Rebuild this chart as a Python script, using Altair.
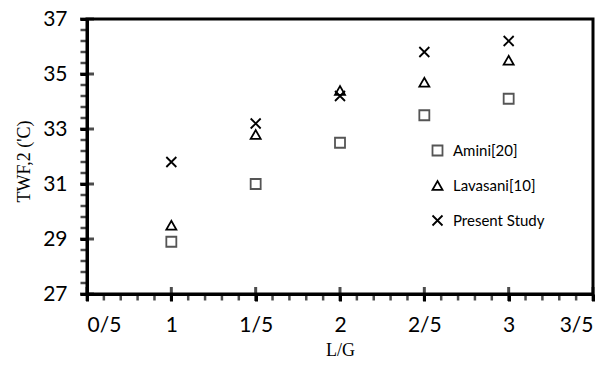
import altair as alt
import pandas as pd

ratios = [1.0, 1.5, 2.0, 2.5, 3.0]
amini = [28.9, 31.0, 32.5, 33.5, 34.1]
lavasani = [29.5, 32.8, 34.4, 34.7, 35.5]
present = [31.8, 33.2, 34.2, 35.8, 36.2]
series_names = ["Amini[20]", "Lavasani[10]", "Present Study"]

x_ticks = [0.5, 1.0, 1.5, 2.0, 2.5, 3.0, 3.5]
x_tick_labels = ["0/5", "1", "1/5", "2", "2/5", "3", "3/5"]
y_ticks = [27, 29, 31, 33, 35, 37]
x_minor = [0.6, 0.7, 0.8, 0.9, 1.1, 1.2, 1.3, 1.4, 1.6, 1.7, 1.8, 1.9,
           2.1, 2.2, 2.3, 2.4, 2.6, 2.7, 2.8, 2.9, 3.1, 3.2, 3.3, 3.4]
y_minor = [27.4, 27.8, 28.2, 28.6, 29.4, 29.8, 30.2, 30.6, 31.4, 31.8, 32.2, 32.6,
           33.4, 33.8, 34.2, 34.6, 35.4, 35.8, 36.2, 36.6]

rows = []
for name, vals in zip(series_names, [amini, lavasani, present]):
    for r, v in zip(ratios, vals):
        rows.append({"L/G": r, "TWF": v, "series": name})
df = pd.DataFrame(rows)

label_expr = " : ".join(
    [f"datum.value == {v} ? '{l}'" for v, l in zip(x_ticks, x_tick_labels)] + ["''"]
)

xscale = alt.Scale(domain=[x_ticks[0], x_ticks[-1]], nice=False, zero=False)
yscale = alt.Scale(domain=[y_ticks[0], y_ticks[-1]], nice=False, zero=False)

legend = alt.Legend(title=None, orient="none", legendX=343, legendY=124,
                    labelFont="Lato", labelFontSize=15, labelColor="black",
                    symbolSize=100, symbolStrokeWidth=1.8, symbolFillColor="transparent",
                    rowPadding=17, labelOffset=8, padding=0)

points = alt.Chart(df).mark_point(filled=False, size=100, strokeWidth=1.8, opacity=1).encode(
    x=alt.X("L/G:Q", scale=xscale,
            axis=alt.Axis(values=x_ticks, labelExpr=label_expr, title="L/G", grid=False,
                          tickSize=7, tickWidth=3, tickColor="#000000", domainColor="#000000",
                          domainWidth=3, labelPadding=13, labelFont="Lato", labelFontSize=21,
                          labelColor="black", titleFont="Liberation Serif", titleFontSize=18,
                          titleFontWeight="normal", titleColor="black", titlePadding=6)),
    y=alt.Y("TWF:Q", scale=yscale,
            axis=alt.Axis(values=y_ticks, title="TWF,2 ('C)", grid=False,
                          tickSize=7, tickWidth=3, tickColor="#000000", domainColor="#000000",
                          domainWidth=3, labelPadding=13, labelFont="Lato", labelFontSize=21,
                          labelColor="black", titleFont="Liberation Serif", titleFontSize=18,
                          titleFontWeight="normal", titleColor="black", titlePadding=9,
                          titleY=142)),
    shape=alt.Shape("series:N", sort=series_names,
                    scale=alt.Scale(domain=series_names,
                                    range=["square", "triangle-up", "M-1,-1L1,1M-1,1L1,-1"]),
                    legend=legend),
    color=alt.Color("series:N", sort=series_names,
                    scale=alt.Scale(domain=series_names, range=["#555555", "#000000", "#000000"]),
                    legend=legend),
)

xmaj_df = pd.DataFrame({"v": x_ticks, "base": y_ticks[0]})
xmin_df = pd.DataFrame({"v": x_minor, "base": y_ticks[0]})
ymaj_df = pd.DataFrame({"v": y_ticks, "base": x_ticks[0]})
ymin_df = pd.DataFrame({"v": y_minor, "base": x_ticks[0]})

xmaj = alt.Chart(xmaj_df).mark_tick(orient="vertical", size=14, thickness=3, color="#000000").encode(
    x=alt.X("v:Q", scale=xscale), y=alt.Y("base:Q", scale=yscale))
xmin = alt.Chart(xmin_df).mark_tick(orient="vertical", size=7, thickness=2.5, color="#000000",
                                     yOffset=3).encode(
    x=alt.X("v:Q", scale=xscale), y=alt.Y("base:Q", scale=yscale))
ymaj = alt.Chart(ymaj_df).mark_tick(orient="horizontal", size=14, thickness=3, color="#000000").encode(
    y=alt.Y("v:Q", scale=yscale), x=alt.X("base:Q", scale=xscale))
ymin = alt.Chart(ymin_df).mark_tick(orient="horizontal", size=7, thickness=2.5, color="#000000",
                                     xOffset=-3).encode(
    y=alt.Y("v:Q", scale=yscale), x=alt.X("base:Q", scale=xscale))

chart = alt.layer(points, xmaj, xmin, ymaj, ymin).properties(
    width=506, height=275,
    autosize=alt.AutoSizeParams(type="none"),
    padding={"left": 87, "top": 19, "right": 21, "bottom": 71},
).configure_view(stroke="#000000", strokeWidth=3)

chart.save("out.html", embed_options={"renderer": "svg", "actions": False})
